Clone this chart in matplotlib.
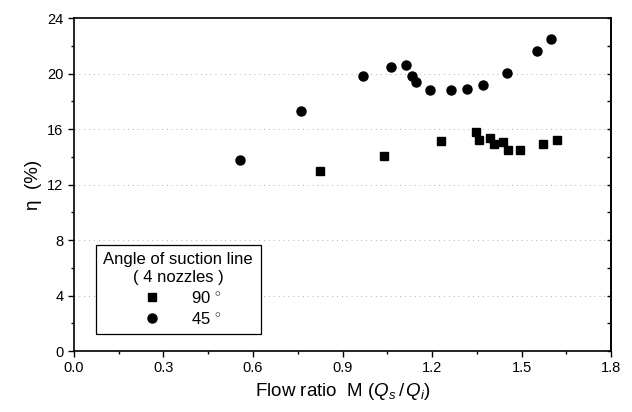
import numpy as np
import matplotlib.pyplot as plt
from matplotlib.ticker import MultipleLocator

plt.rcParams['font.family'] = ['Liberation Sans', 'DejaVu Sans']
plt.rcParams['mathtext.fontset'] = 'custom'
plt.rcParams['mathtext.rm'] = 'Liberation Sans'
plt.rcParams['mathtext.it'] = 'Liberation Sans:italic'

# 90 degree suction line (squares)
m90 = [0.824, 1.040, 1.231, 1.347, 1.356, 1.394, 1.408, 1.439, 1.455, 1.496, 1.571, 1.617]
eta90 = [12.95, 14.08, 15.12, 15.8, 15.18, 15.35, 14.89, 15.06, 14.5, 14.47, 14.89, 15.2]

# 45 degree suction line (circles)
m45 = [0.555, 0.760, 0.969, 1.064, 1.113, 1.132, 1.147, 1.193, 1.265, 1.318, 1.372, 1.451, 1.551, 1.598]
eta45 = [13.8, 17.27, 19.82, 20.5, 20.6, 19.8, 19.4, 18.8, 18.8, 18.86, 19.17, 20.06, 21.6, 22.5]

fig = plt.figure(figsize=(6.32, 4.12), dpi=100)
ax = fig.add_axes([0.117, 0.148, 0.850, 0.808])

# faint dotted grid lines, like the scan
for yv in [4, 8, 12, 16, 20]:
    ax.axhline(yv, color='#b0b0b0', ls=(0, (1, 4)), lw=0.7, zorder=0)

ax.plot(m90, eta90, 's', color='black', ms=6, label='90 $^{\\circ}$')
ax.plot(m45, eta45, 'o', color='black', ms=6.5, label='45 $^{\\circ}$')

ax.set_xlim(0, 1.8)
ax.set_ylim(0, 24)
ax.xaxis.set_major_locator(MultipleLocator(0.3))
ax.xaxis.set_minor_locator(MultipleLocator(0.15))
ax.yaxis.set_major_locator(MultipleLocator(4))
ax.yaxis.set_minor_locator(MultipleLocator(2))
ax.set_xticklabels(['%.1f' % v for v in ax.get_xticks()])
ax.tick_params(which='both', direction='out', labelsize=10.5)
ax.tick_params(which='major', length=4, width=1)
ax.tick_params(which='minor', length=2.5, width=1)
for sp in ax.spines.values():
    sp.set_linewidth(1.2)

# right side ticks point inwards
sec = ax.secondary_yaxis('right')
sec.yaxis.set_major_locator(MultipleLocator(4))
sec.yaxis.set_minor_locator(MultipleLocator(2))
sec.tick_params(which='both', direction='in', labelright=False, length=3, width=1)
sec.spines['right'].set_linewidth(1.2)

ax.set_xlabel(r'Flow ratio  M ($Q_s\,/\,Q_i$)', fontsize=13.5)
ax.set_ylabel('η  (%)', fontsize=13.5)

leg = ax.legend(title='Angle of suction line\n( 4 nozzles )', loc='lower left',
                bbox_to_anchor=(0.041, 0.051), borderaxespad=0, fontsize=12,
                title_fontsize=12, fancybox=False, edgecolor='black',
                framealpha=1, handletextpad=1.3, borderpad=0.45,
                labelspacing=0.3)
leg.get_frame().set_linewidth(0.9)
leg.get_title().set_multialignment('center')

plt.savefig('out.png', dpi=100)
